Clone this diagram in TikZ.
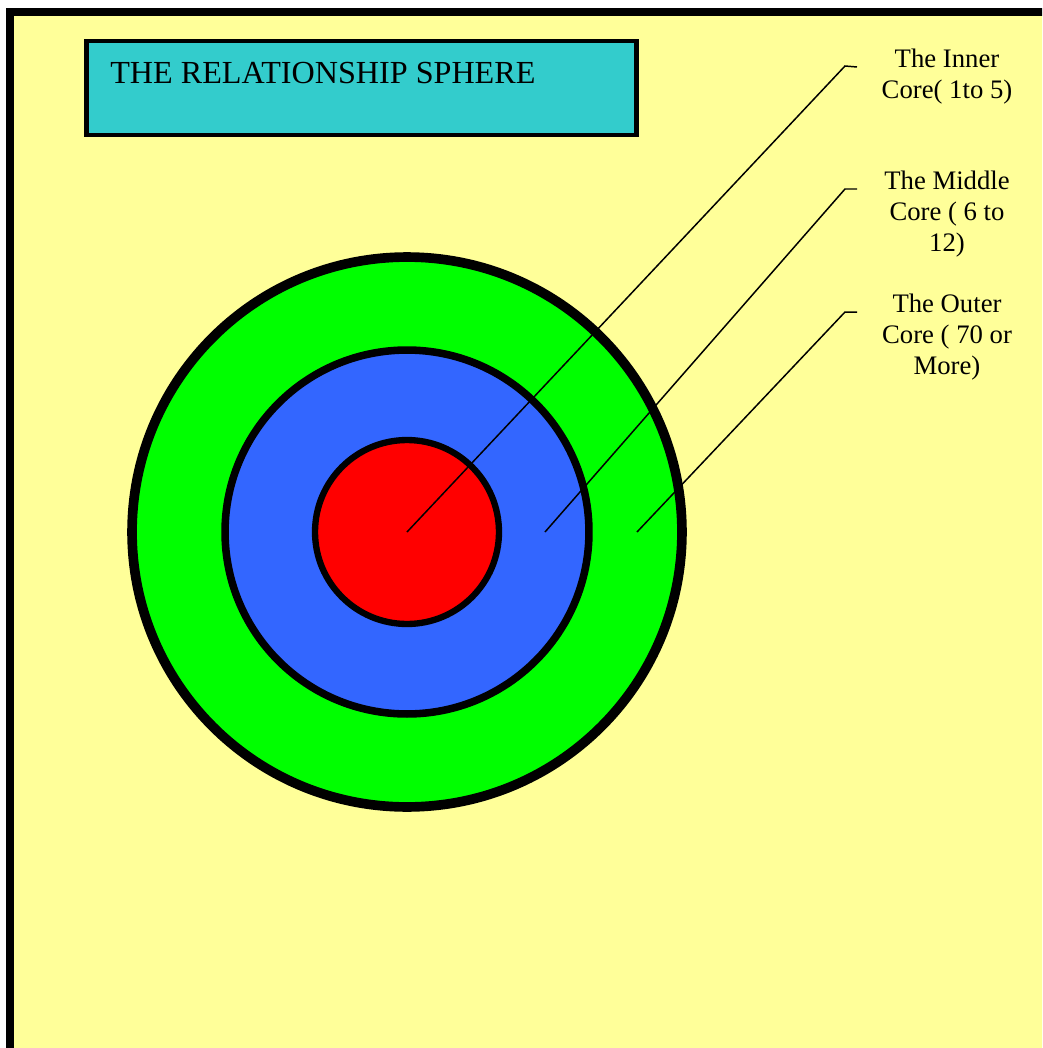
\documentclass[tikz,border=0pt]{standalone}
\usepackage{fontspec}
\setmainfont{Liberation Serif}
\definecolor{paleyellow}{HTML}{FFFF99}
\definecolor{ringgreen}{HTML}{00FF00}
\definecolor{ringblue}{HTML}{3366FF}
\definecolor{ringred}{HTML}{FF0000}
\definecolor{titleteal}{HTML}{33CCCC}
\begin{document}
\begin{tikzpicture}[
  x=0.02cm, y=-0.02cm,
  frame/.style={draw, line width=4.5pt, fill=paleyellow},
  ring/.style={circle, draw, inner sep=0pt},
  titlebox/.style={draw, line width=2.8pt, fill=titleteal,
                   minimum width=11.02cm, minimum height=1.88cm, inner sep=0pt},
  titletext/.style={font=\fontsize{18.3}{22}\selectfont, inner sep=0pt},
  lbl/.style={font=\fontsize{15.2}{17.6}\selectfont, align=center, inner sep=0pt},
  lead/.style={line width=0.85pt},
]
\useasboundingbox (0,0) rectangle (1042,1048);
\clip (0,0) rectangle (1042,1048);

% ---- Frame -----------------------------------------------------------------
\draw[frame] (10,12) rectangle (1080,1090);

% ---- Title -----------------------------------------------------------------
\node[titlebox] (box) at (361.5,88) {};
\node[titletext, anchor=base west] (title) at (110,83)
  {THE RELATIONSHIP SPHERE};

% ---- The sphere ------------------------------------------------------------
\node[ring, fill=ringgreen, line width=5.5pt, minimum size=11cm]  (outer)  at (407,532) {};
\node[ring, fill=ringblue,  line width=4.3pt, minimum size=7.28cm] (middle) at (407,532) {};
\node[ring, fill=ringred,   line width=3.6pt, minimum size=3.68cm] (inner)  at (407,532) {};

% ---- Labels (base = last line) ---------------------------------------------
\node[lbl, anchor=base] (lblin)  at (947,98)  {The Inner\\Core( 1to 5)};
\node[lbl, anchor=base] (lblmid) at (947,251) {The Middle\\Core ( 6 to\\12)};
\node[lbl, anchor=base] (lblout) at (947,374) {The Outer\\Core ( 70 or\\More)};

\coordinate (inend)  at (857,67);
\coordinate (midend) at (857,189);
\coordinate (outend) at (857,312);
\coordinate (midpt)  at (545,532);
\coordinate (outpt)  at (637,532);

\draw[lead] (inner.center) -- ++(438,-466) -- (inend);
\draw[lead] (midpt) -- ++(300,-343) -- (midend);
\draw[lead] (outpt) -- ++(208,-220) -- (outend);

\end{tikzpicture}
\end{document}
